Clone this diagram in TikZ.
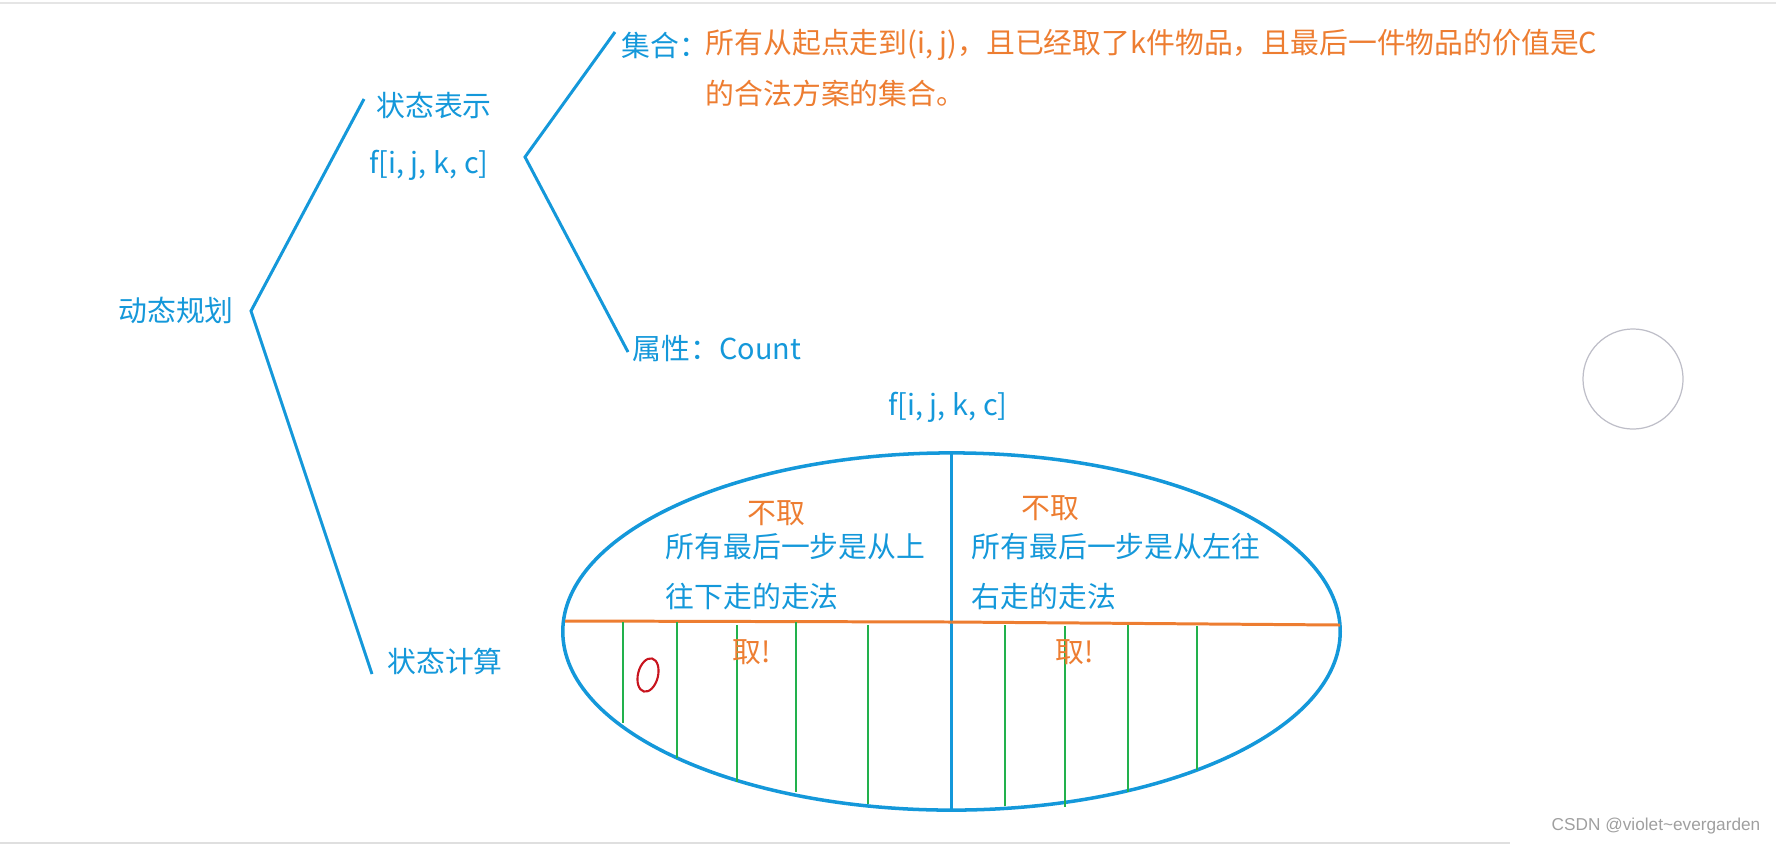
\documentclass[tikz,border=0pt]{standalone}
\usepackage{fontspec}
\setmainfont{Noto Sans CJK SC}
\newfontfamily\markfont{Liberation Sans}
\usepackage{xcolor}
\usetikzlibrary{shapes.geometric}

\definecolor{dpblue}{RGB}{20,152,218}
\definecolor{dporange}{RGB}{237,125,49}
\definecolor{dpgreen}{RGB}{34,177,76}
\definecolor{dpred}{RGB}{200,20,30}
\definecolor{ringgray}{RGB}{190,190,200}
\newcommand\bodysize{\fontsize{8.2pt}{13.7pt}\selectfont}

\begin{document}
\begin{tikzpicture}[
  x=0.01cm, y=-0.01cm,
  txt/.style={inner sep=0pt, text=dpblue, font=\bodysize},
  hot/.style={inner sep=0pt, text=dporange, font=\bodysize},
  fork/.style={draw=dpblue, line width=0.85pt},
  pool/.style={draw=dpblue, ellipse, line width=1pt, inner sep=0pt, outer sep=0pt,
               minimum width=7.77cm, minimum height=3.57cm},
  cutline/.style={draw=dporange, line width=0.85pt},
  take/.style={draw=dpgreen, line width=0.75pt}
]
\useasboundingbox (0,0) rectangle (1776,845);

% ---- screenshot edges ----
\draw[gray!20, line width=0.6pt] (0,3) -- (1776,3);
\draw[gray!25, line width=0.8pt] (0,843) -- (1510,843);

% ---- left tree ----
\node[txt] (dp)   at (176,310) {动态规划};
\node[txt] (repr) at (434,105) {状态表示};
\node[txt] (fsig) at (429,165) {f[i, j, k, c]};
\node[txt] (calc) at (445,661) {状态计算};

\coordinate (dpfork)  at (251,311);
\coordinate (reprend) at (364,99);
\coordinate (calcend) at (372,674);
\draw[fork] (reprend) -- (dpfork) -- (calcend);

% ---- state representation ----
\node[txt, anchor=west] (setlbl)  at (621,45) {集合：};
\node[hot, anchor=west] (setdef)  at (705,45) {所有从起点走到(i, j)，且已经取了k件物品，且最后一件物品的价值是C};
\node[hot, anchor=west] (setdef2) at (705,93) {的合法方案的集合。};
\node[txt, anchor=west] (attr)    at (632,349) {属性：Count};

\coordinate (sigfork) at (525,157);
\coordinate (setend)  at (615,32);
\coordinate (attrend) at (628,352);
\draw[fork] (setend) -- (sigfork) -- (attrend);

% ---- state computation: the set split ----
\node[txt] (ftop) at (948,407) {f[i, j, k, c]};
\node[pool] (pool) at (951.5,631.5) {};
\draw[fork] (pool.north) -- (pool.south);

\coordinate (cutL) at (565,621);
\coordinate (cutM) at (951.5,622);
\coordinate (cutR) at (1340,625);
\draw[cutline] (cutL) -- (cutM);
\draw[cutline] (cutM) -- (cutR);

\foreach \x/\ya/\yb in {623/622/723, 677/622/758, 737/625/782, 796/622/792, 868/625/804,
                        1005/625/806, 1065/626/807, 1128/625/792, 1197/626/770}
  \draw[take] (\x,\ya) -- (\x,\yb);

\node[hot] (skipL) at (776,513) {不取};
\node[txt, anchor=west] (downL1) at (665,547) {所有最后一步是从上};
\node[txt, anchor=west] (downL2) at (665,597) {往下走的走法};
\node[hot] (skipR) at (1050,508) {不取};
\node[txt, anchor=west] (downR1) at (971,547) {所有最后一步是从左往};
\node[txt, anchor=west] (downR2) at (971,597) {右走的走法};
\node[hot] (takeL) at (752,652) {取!};
\node[hot] (takeR) at (1075,652) {取!};

% hand-drawn zero
\draw[dpred, line width=0.6pt, rotate around={-14:(648,675)}] (648,675) ellipse [x radius=10, y radius=17];

% ---- leftovers of the screenshot ----
\node[draw=ringgray, circle, minimum size=1cm, inner sep=0pt, line width=0.35pt] (ring) at (1633,379) {};
\node[anchor=east, inner sep=0pt, text=gray!75, font=\markfont\fontsize{4.9pt}{6pt}\selectfont] (mark)
  at (1761,826) {CSDN @violet\textasciitilde evergarden};

\end{tikzpicture}
\end{document}
